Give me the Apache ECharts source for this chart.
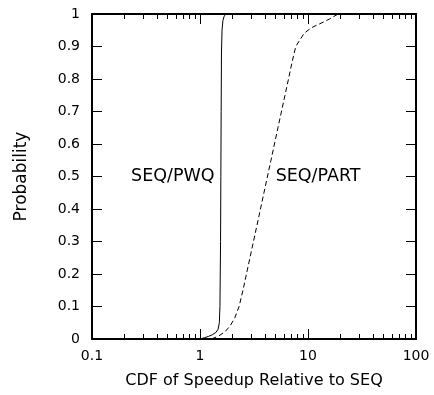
<!DOCTYPE html>
<html>
<head>
<meta charset="utf-8">
<script src="https://cdn.jsdelivr.net/npm/echarts@6/dist/echarts.min.js"></script>
<style>html,body{margin:0;padding:0;background:#fff}#c{width:434px;height:395px}</style>
</head>
<body>
<div id="c"></div>
<script>
// SEQ/PWQ (solid) CDF points: [speedup, probability]
var pwqX = [1.0, 1.1, 1.2, 1.3, 1.4, 1.47, 1.51, 1.53, 1.55, 1.56, 1.57, 1.58, 1.6, 1.63, 1.68, 1.75];
var pwqY = [0, 0.004, 0.008, 0.013, 0.02, 0.03, 0.05, 0.1, 0.3, 0.5, 0.7, 0.88, 0.95, 0.98, 0.995, 1.0];
// SEQ/PART (dashed) CDF points
var partX = [1.28, 1.5, 1.7, 1.9, 2.1, 2.3, 2.5, 2.9, 3.37, 3.91, 4.54, 5.27, 6.12, 6.6, 7.1, 7.7, 8.4, 9.2, 10, 11.1, 12.9, 15.9, 19];
var partY = [0, 0.01, 0.022, 0.04, 0.065, 0.1, 0.15, 0.25, 0.35, 0.45, 0.55, 0.65, 0.75, 0.8, 0.85, 0.9, 0.92, 0.94, 0.95, 0.96, 0.97, 0.985, 1.0];
var xMinor = [0.2,0.3,0.4,0.5,0.6,0.7,0.8,0.9,2,3,4,5,6,7,8,9,20,30,40,50,60,70,80,90];
var labels = [{text:'SEQ/PWQ', x:0.56, y:0.5}, {text:'SEQ/PART', x:12.4, y:0.5}];

function zip(a,b){return a.map(function(v,i){return [v,b[i]];});}
var FONT = 'DejaVu Sans, sans-serif';
// main log axes (bottom/top) with decade ticks
function xax(pos, showLabel){
  return {
    type:'log', logBase:10, min:0.1, max:100, position:pos,
    axisLine:{show:true, onZero:false, lineStyle:{color:'#000',width:2}},
    axisTick:{show:true, inside:true, length:10, lineStyle:{color:'#000',width:1}},
    axisLabel:{show:showLabel, color:'#000', fontSize:14, fontFamily:FONT, margin:10,
               formatter:function(v){return String(v);}},
    splitLine:{show:false}, minorTick:{show:false},
    name: showLabel ? 'CDF of Speedup Relative to SEQ' : '',
    nameLocation:'middle', nameGap:34,
    nameTextStyle:{color:'#000', fontSize:16, fontFamily:FONT}
  };
}
// minor-tick axes in log10 space (-1..2), ticks at log10 of minor values
function xminor(pos){
  return {
    type:'value', min:-1, max:2, position:pos,
    axisLine:{show:false, onZero:false},
    axisTick:{show:true, inside:true, length:5, lineStyle:{color:'#000',width:1},
              customValues: xMinor.map(function(v){return Math.log10(v);})},
    axisLabel:{show:false}, splitLine:{show:false}
  };
}
function yax(pos, showLabel){
  return {
    type:'value', min:0, max:1, interval:0.1, position:pos,
    axisLine:{show:true, onZero:false, lineStyle:{color:'#000',width:2}},
    axisTick:{show:true, inside:true, length:10, lineStyle:{color:'#000',width:1}},
    axisLabel:{show:showLabel, color:'#000', fontSize:14, fontFamily:FONT, margin:12,
               formatter:function(v){return String(Math.round(v*10)/10);}},
    splitLine:{show:false},
    name: showLabel ? 'Probability' : '',
    nameLocation:'middle', nameGap:62,
    nameTextStyle:{color:'#000', fontSize:17, fontFamily:FONT}
  };
}
var chart = echarts.init(document.getElementById('c'), null, {renderer:'canvas'});
chart.setOption({
  animation:false,
  backgroundColor:'#fff',
  grid:{left:92, right:18, top:14, bottom:56},
  xAxis:[xax('bottom',true), xax('top',false), xminor('bottom'), xminor('top')],
  yAxis:[yax('left',true), yax('right',false)],
  series:[
    {type:'line', data:zip(pwqX,pwqY), showSymbol:false, symbol:'none', smooth:false,
     lineStyle:{color:'#000', width:1, type:'solid'},
     markPoint:{symbol:'rect', symbolSize:0, data:[{coord:[labels[0].x, labels[0].y], value:labels[0].text}],
       label:{show:true, position:'inside', color:'#000', fontSize:17.5, fontFamily:FONT, formatter:labels[0].text}}},
    {type:'line', data:zip(partX,partY), showSymbol:false, symbol:'none', smooth:false,
     lineStyle:{color:'#000', width:1, type:[5,3]},
     markPoint:{symbol:'rect', symbolSize:0, data:[{coord:[labels[1].x, labels[1].y], value:labels[1].text}],
       label:{show:true, position:'inside', color:'#000', fontSize:17.5, fontFamily:FONT, formatter:labels[1].text}}}
  ]
});
</script>
</body>
</html>
